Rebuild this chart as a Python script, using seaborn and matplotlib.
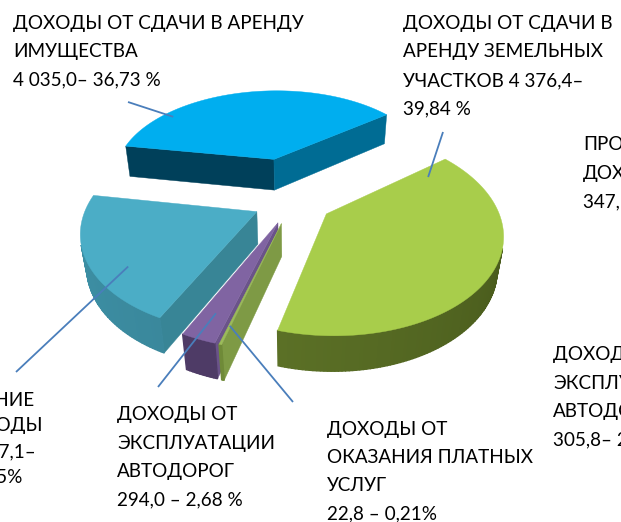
import numpy as np
import matplotlib.pyplot as plt
import seaborn as sns
from matplotlib.colors import to_rgb

# slices, clockwise from the upper-left edge
categories = ["аренда имущества", "аренда земельных участков", "платные услуги",
              "эксплуатация автодорог", "прочие"]
values = [4035.0, 4376.4, 22.8, 294.0, 2257.1]
labels = [
    ["ДОХОДЫ ОТ СДАЧИ В АРЕНДУ", "ИМУЩЕСТВА", "4 035,0– 36,73 %"],
    ["ДОХОДЫ ОТ СДАЧИ В", "АРЕНДУ ЗЕМЕЛЬНЫХ", "УЧАСТКОВ 4 376,4–", "39,84 %"],
    ["ДОХОДЫ ОТ", "ОКАЗАНИЯ ПЛАТНЫХ", "УСЛУГ", "22,8 – 0,21%"],
    ["ДОХОДЫ ОТ", "ЭКСПЛУАТАЦИИ", "АВТОДОРОГ", "294,0 – 2,68 %"],
    ["ПОСТУПЛЕНИЕ", "ПРОЧИЕ ДОХОДЫ", "2 257,1–", "20,55%"],
]
# labels of the neighbouring chart, cut by the right edge
side_labels = [
    ["ПРОЧИЕ", "ДОХОДЫ", "347,1 – 3,16 %"],
    ["ДОХОДЫ ОТ", "ЭКСПЛУАТАЦИИ", "АВТОДОРОГ", "305,8– 2,78 %"],
]

# look
top_colors = ["#00AEEF", "#A8CD4B", "#9BBB59", "#8064A2", "#4BADC6"]
face_t1 = ["#00405A", "#6E8A2E", "#7E9A45", "#6A5389", "#388596"]
face_t0 = ["#006C94", "#6E8A2E", "#7E9A45", "#6A5389", "#388596"]
wall_c0 = ["#005A7D", "#5B7026", "#6F8A38", "#4E3B66", "#3E93A9"]
wall_c1 = ["#005A7D", "#3E4E16", "#6F8A38", "#4E3B66", "#3A889C"]
explode = [0.497, 0.234, 0.234, 0.234, 0.234]
anchor = [(0.22, 0.93), (0.044, 0.76), (0.5, 0.87), (0.5, 0.81), (0.36, 0.83)]
label_xy = [(13, 28.5), (403, 29), (327, 435), (117, 420), (None, 406)]
line_ends = [(128, 102), (443, 132), (293, 402), (158, 387), (16, 372)]
teal_right = [34, 43, 36, 23]

# camera (fitted to the reference)
cx, cy, S, D, phi = 292.7, 201.3, 168.8, 4.563, 0.595
start, thick = 170.2, 0.237
cam = np.array([0, -D * np.cos(phi), D * np.sin(phi)])


def proj(P):
    X, Y, Z = P
    zc = D + Y * np.cos(phi) - Z * np.sin(phi)
    return (cx + S * D * X / zc, cy - S * D * (Y * np.sin(phi) + Z * np.cos(phi)) / zc)


def depth(P):
    return D + P[1] * np.cos(phi) - P[2] * np.sin(phi)


def mix(c0, c1, f):
    a, b = np.array(to_rgb(c0)), np.array(to_rgb(c1))
    return tuple(a + (b - a) * f)


sns.set_theme(style="white")
plt.rcParams["font.family"] = ["Lato", "DejaVu Sans"]

fig = plt.figure(figsize=(6.21, 5.22), dpi=100)
ax = fig.add_axes([0, 0, 1, 1])
ax.set_xlim(0, 621)
ax.set_ylim(522, 0)
ax.axis("off")

spans = np.array(values) / sum(values) * 360
edges = start - np.concatenate([[0], np.cumsum(spans)])
mids = (edges[:-1] + edges[1:]) / 2

wedges = []
for i in range(len(values)):
    m = np.radians(mids[i])
    apex = np.array([explode[i] * np.cos(m), explode[i] * np.sin(m), 0.0])
    t0, t1 = np.radians(edges[i + 1]), np.radians(edges[i])
    cen = apex + 0.5 * np.array([np.cos(m), np.sin(m), 0])
    wedges.append((depth(cen), i, apex, t0, t1))

# far wedges first
for _, i, apex, t0, t1 in sorted(wedges, key=lambda w: -w[0]):
    n = max(int(np.degrees(t1 - t0)), 2)
    ang = np.linspace(t0, t1, n + 1)
    rim = [apex + np.array([np.cos(a), np.sin(a), 0]) for a in ang]
    down = np.array([0, 0, -thick])

    # radial faces
    for a, edge, col in [(t1, rim[-1], face_t1[i]), (t0, rim[0], face_t0[i])]:
        nrm = np.array([-np.sin(a), np.cos(a), 0]) if a == t1 else np.array([np.sin(a), -np.cos(a), 0])
        if nrm @ (cam - (apex + edge) / 2) > 0:
            quad = [proj(apex), proj(edge), proj(edge + down), proj(apex + down)]
            ax.add_patch(plt.Polygon(quad, closed=True, fc=col, ec=col, lw=0.3))

    # outer wall, shaded along the rim
    for k in range(n):
        a = (ang[k] + ang[k + 1]) / 2
        nrm = np.array([np.cos(a), np.sin(a), 0])
        if nrm @ (cam - rim[k]) > 0:
            col = mix(wall_c0[i], wall_c1[i], k / n)
            quad = [proj(rim[k]), proj(rim[k + 1]), proj(rim[k + 1] + down), proj(rim[k] + down)]
            ax.add_patch(plt.Polygon(quad, closed=True, fc=col, ec=col, lw=1.0))

    # top
    top = [proj(apex)] + [proj(p) for p in rim]
    ax.add_patch(plt.Polygon(top, closed=True, fc=top_colors[i], ec=top_colors[i], lw=0.3))

    # leader line
    fr, r = anchor[i]
    a = t1 - fr * (t1 - t0)
    tip = proj(apex + r * np.array([np.cos(a), np.sin(a), 0]))
    ax.plot([line_ends[i][0], tip[0]], [line_ends[i][1], tip[1]], color="#4A7EBB", lw=1.3,
            solid_capstyle="butt")

txt = dict(fontsize=13.6, color="black", va="baseline")
step = 28.5
for i, lines in enumerate(labels):
    x, y0 = label_xy[i]
    for k, line in enumerate(lines):
        if x is None:
            ax.text(teal_right[k], y0 + k * 25.5, line, ha="right", **txt)
        else:
            ax.text(x, y0 + k * (28 if i == 2 else step), line, ha="left", **txt)

for (x, y0), lines in zip([(583, 150), (553, 360)], side_labels):
    for k, line in enumerate(lines):
        ax.text(x, y0 + k * step, line, ha="left", **txt)

fig.savefig("out.png", dpi=100)
